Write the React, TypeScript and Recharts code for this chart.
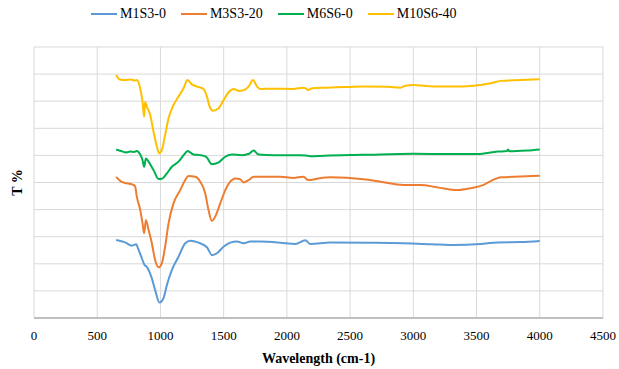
import { LineChart, Line, XAxis, YAxis, CartesianGrid } from "recharts";

// FTIR spectra, wavenumber (cm-1) vs relative transmittance (offset per sample)
const m1Wave = [650, 721, 774, 808, 826, 853, 874, 892, 932, 958, 992, 1024, 1051, 1090, 1143, 1196, 1236, 1301, 1368, 1407, 1447, 1499, 1552, 1605, 1658, 1710, 1790, 1948, 2067, 2146, 2186, 2344, 2650, 2922, 3150, 3319, 3532, 3667, 3850, 4000];
const m1T = [2.88, 2.79, 2.67, 2.72, 2.53, 2.2, 1.96, 1.89, 1.46, 1.03, 0.57, 0.73, 1.22, 1.77, 2.26, 2.76, 2.85, 2.78, 2.61, 2.32, 2.39, 2.63, 2.78, 2.82, 2.76, 2.82, 2.82, 2.78, 2.73, 2.87, 2.73, 2.79, 2.78, 2.76, 2.72, 2.69, 2.73, 2.79, 2.8, 2.84];

const m3Wave = [650, 690, 734, 786, 800, 813, 840, 858, 871, 885, 906, 932, 958, 985, 1011, 1037, 1064, 1103, 1156, 1196, 1222, 1275, 1315, 1354, 1380, 1407, 1433, 1473, 1513, 1552, 1592, 1631, 1658, 1697, 1737, 1948, 2050, 2130, 2170, 2250, 2344, 2606, 2740, 2922, 3057, 3192, 3350, 3453, 3556, 3627, 3691, 3850, 4000];
const m3T = [5.21, 5.03, 4.97, 4.91, 4.85, 4.48, 3.99, 3.5, 3.13, 3.62, 3.25, 2.76, 2.14, 1.87, 2.02, 2.63, 3.49, 4.23, 4.72, 5.09, 5.24, 5.21, 5.03, 4.6, 3.99, 3.58, 3.74, 4.23, 4.72, 5.03, 5.15, 5.12, 5.0, 5.09, 5.21, 5.21, 5.17, 5.21, 5.09, 5.15, 5.19, 5.12, 5.03, 4.91, 4.91, 4.82, 4.72, 4.79, 4.91, 5.09, 5.19, 5.22, 5.25];

const m6Wave = [650, 690, 730, 760, 790, 813, 840, 858, 871, 885, 906, 945, 985, 1016, 1051, 1090, 1143, 1196, 1214, 1262, 1315, 1362, 1407, 1460, 1513, 1566, 1645, 1700, 1737, 1776, 1900, 2100, 2150, 2180, 2300, 2600, 3002, 3300, 3508, 3667, 3740, 3750, 3760, 3900, 4000];
const m6T = [6.22, 6.16, 6.11, 6.14, 6.13, 6.16, 6.03, 5.83, 5.58, 5.89, 5.77, 5.46, 5.13, 5.15, 5.34, 5.58, 5.77, 6.08, 6.16, 6.03, 6.01, 5.95, 5.67, 5.74, 5.95, 6.03, 6.01, 6.06, 6.18, 6.03, 6.01, 6.01, 6.0, 5.97, 5.99, 6.02, 6.06, 6.05, 6.05, 6.14, 6.16, 6.22, 6.15, 6.18, 6.22];

const m10Wave = [650, 680, 720, 760, 800, 813, 840, 858, 871, 879, 892, 919, 945, 972, 990, 1011, 1037, 1064, 1103, 1143, 1183, 1214, 1249, 1289, 1341, 1368, 1389, 1415, 1460, 1499, 1539, 1579, 1618, 1658, 1697, 1732, 1764, 1790, 1900, 2050, 2130, 2146, 2168, 2200, 2305, 2450, 2606, 2800, 2899, 2938, 3002, 3100, 3216, 3398, 3532, 3611, 3691, 3849, 4000];
const m10T = [8.97, 8.8, 8.78, 8.8, 8.76, 8.78, 8.47, 7.98, 7.43, 7.98, 7.8, 7.49, 6.88, 6.32, 6.08, 6.2, 6.75, 7.37, 7.86, 8.17, 8.48, 8.78, 8.62, 8.54, 8.45, 8.17, 7.8, 7.65, 7.74, 8.04, 8.33, 8.45, 8.38, 8.41, 8.54, 8.78, 8.54, 8.45, 8.46, 8.45, 8.5, 8.48, 8.41, 8.48, 8.5, 8.52, 8.54, 8.53, 8.5, 8.57, 8.6, 8.56, 8.54, 8.54, 8.6, 8.66, 8.75, 8.78, 8.81];

const xTicks = [0, 500, 1000, 1500, 2000, 2500, 3000, 3500, 4000, 4500];
const yTicks = [0, 1, 2, 3, 4, 5, 6, 7, 8, 9, 10];

const toPoints = (w: number[], t: number[]) => w.map((x, i) => ({ x, t: t[i] }));

const series = [
  { name: "M1S3-0", color: "#5B9BD5", data: toPoints(m1Wave, m1T) },
  { name: "M3S3-20", color: "#ED7D31", data: toPoints(m3Wave, m3T) },
  { name: "M6S6-0", color: "#00B050", data: toPoints(m6Wave, m6T) },
  { name: "M10S6-40", color: "#FFC000", data: toPoints(m10Wave, m10T) },
];

const font = "Liberation Serif";

// legend sits above the plot, outside the chart so it doesn't shrink the plot area
function LegendRow() {
  return (
    <div
      style={{
        position: "absolute",
        top: 6,
        left: 91,
        display: "flex",
        gap: 15,
        fontFamily: font,
        fontSize: 14,
        color: "#000",
        whiteSpace: "nowrap",
      }}
    >
      {series.map((s) => (
        <div key={s.name} style={{ display: "flex", alignItems: "center" }}>
          <span style={{ display: "inline-block", width: 26, height: 2, background: s.color, marginRight: 3 }} />
          <span>{s.name}</span>
        </div>
      ))}
    </div>
  );
}

export default function App() {
  return (
    <div style={{ position: "absolute", left: 0, top: 0, width: 619, height: 369, background: "#fff" }}>
      <LineChart width={619} height={369} margin={{ top: 47, right: 16, bottom: 0, left: 0 }}>
        <CartesianGrid stroke="#d9d9d9" strokeWidth={1} />
        <XAxis
          type="number"
          dataKey="x"
          domain={[0, 4500]}
          ticks={xTicks}
          allowDuplicatedCategory={false}
          tickLine={false}
          axisLine={{ stroke: "#bfbfbf", strokeWidth: 2 }}
          tick={{ fill: "#000", fontFamily: font, fontSize: 13 }}
          tickMargin={7}
          height={51}
          label={{ value: "Wavelength (cm-1)", position: "insideBottom", offset: 6, fill: "#000", fontFamily: font, fontSize: 14, fontWeight: "bold" }}
        />
        <YAxis
          type="number"
          domain={[0, 10]}
          ticks={yTicks}
          tick={() => <g />}
          tickLine={false}
          axisLine={false}
          width={34}
          label={{ value: "T %", angle: -90, position: "center", fill: "#000", fontFamily: font, fontSize: 14, fontWeight: "bold" }}
        />
        {series.map((s) => (
          <Line
            key={s.name}
            data={s.data}
            dataKey="t"
            name={s.name}
            type="monotone"
            stroke={s.color}
            strokeWidth={2}
            dot={false}
            isAnimationActive={false}
          />
        ))}
      </LineChart>
      <LegendRow />
    </div>
  );
}
